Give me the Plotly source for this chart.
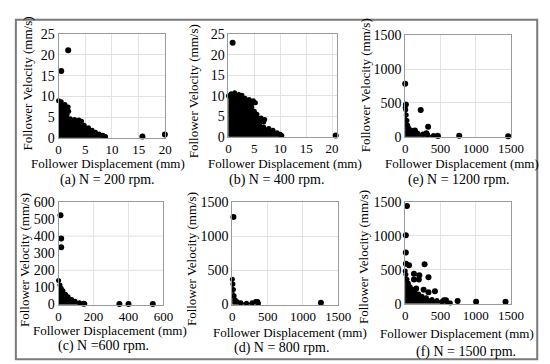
import plotly.graph_objects as go

W, H = 550, 364
FONT = "Liberation Serif, Times New Roman, serif"

# ---------------- data ----------------
# (a) N = 200 rpm
a_blob_x = [0, 0.5, 1.2, 1.8, 1.9, 1.6, 2.2, 3.0, 3.8, 4.3, 4.8, 5.6, 6.3, 6.9, 7.6, 8.3, 8.8]
a_blob_y = [8.9, 8.7, 8.0, 7.4, 6.4, 5.6, 4.6, 4.4, 4.3, 4.0, 3.0, 2.4, 1.8, 1.3, 0.9, 0.6, 0.3]
a_pts_x = [1.8, 0.5, 15.7, 19.9]
a_pts_y = [21.1, 16.1, 0.3, 0.8]

# (b) N = 400 rpm
b_blob_x = [0, 0.5, 1.2, 2.0, 2.6, 3.2, 4.0, 4.8, 5.2, 4.5, 5.0, 5.5, 6.3, 7.0, 6.8, 6.0, 6.8, 7.8, 8.6, 9.4, 10.0, 10.3]
b_blob_y = [10.0, 10.5, 10.7, 10.3, 10.1, 9.4, 9.1, 8.8, 8.3, 7.2, 6.2, 5.5, 4.6, 4.2, 3.6, 3.1, 2.4, 2.0, 1.6, 1.0, 0.6, 0.3]
b_pts_x = [0.8, 20.7]
b_pts_y = [22.9, 0.3]

# (e) N = 1200 rpm
e_blob_x = [0, 8, 15, 25, 35, 50, 80, 120, 180, 250, 320, 400, 470]
e_blob_y = [430, 400, 320, 240, 170, 130, 100, 70, 50, 40, 30, 18, 8]
e_pts_x = [0, 10, 220, 325, 138, 300, 460, 766, 1460]
e_pts_y = [782, 477, 396, 146, 92, 52, 14, 14, 6]

# (c) N = 600 rpm
c_blob_x = [0, 8, 15, 25, 40, 55, 75, 95, 120, 150]
c_blob_y = [140, 115, 95, 80, 60, 45, 30, 20, 10, 4]
c_pts_x = [11, 15, 15, 144, 348, 400, 539]
c_pts_y = [522, 387, 335, 5, 3, 3, 3]

# (d) N = 800 rpm
d_blob_x = [0, 8, 15, 25, 40, 70, 120, 200, 280, 330, 360, 370]
d_blob_y = [370, 300, 220, 130, 70, 40, 25, 20, 25, 45, 45, 15]
d_pts_x = [15, 1255]
d_pts_y = [1280, 25]

# (f) N = 1500 rpm
f_blob_x = [0, 10, 25, 45, 70, 100, 140, 190, 240, 300, 380, 450, 520, 600, 640]
f_blob_y = [480, 430, 360, 300, 250, 210, 170, 140, 110, 85, 60, 45, 30, 20, 10]
f_pts_x = [25, 9, 9, 10, 55, 275, 124, 200, 330, 124, 193, 156, 261, 330, 422, 550, 578, 743, 1005, 1422]
f_pts_y = [1440, 1009, 753, 588, 565, 579, 439, 420, 388, 355, 355, 224, 206, 168, 182, 51, 51, 37, 28, 28]

x_titles = ["Follower Displacement (mm)"] * 6
y_titles = ["Follower Velocity (mm/s)"] * 6
captions = ["(a) N = 200 rpm.", "(b) N = 400 rpm.", "(e) N = 1200 rpm.",
            "(c) N =600 rpm.", "(d) N = 800 rpm.", "(f) N = 1500 rpm."]

a_xticks = [0, 5, 10, 15, 20]
a_yticks = [0, 5, 10, 15, 20, 25]
b_xticks = [0, 5, 10, 15, 20]
b_yticks = [0, 5, 10, 15, 20, 25]
big_ticks = [0, 500, 1000, 1500]
c_xticks = [0, 200, 400, 600]
c_yticks = [0, 100, 200, 300, 400, 500, 600]
c_ygrid = [200, 400]

panels = [
    dict(bx=a_blob_x, by=a_blob_y, px=a_pts_x, py=a_pts_y, xr=[0, 20], yr=[0, 25],
         xt=a_xticks, yt=a_yticks, box=(49, 159, 20, 128)),
    dict(bx=b_blob_x, by=b_blob_y, px=b_pts_x, py=b_pts_y, xr=[0, 21], yr=[0, 25],
         xt=b_xticks, yt=b_yticks, box=(224, 336, 20, 127)),
    dict(bx=e_blob_x, by=e_blob_y, px=e_pts_x, py=e_pts_y, xr=[0, 1500], yr=[0, 1500],
         xt=big_ticks, yt=big_ticks, box=(406, 515, 21, 127)),
    dict(bx=c_blob_x, by=c_blob_y, px=c_pts_x, py=c_pts_y, xr=[0, 600], yr=[0, 600],
         xt=c_xticks, yt=c_yticks, box=(49, 157, 195, 302), ygrid=c_ygrid),
    dict(bx=d_blob_x, by=d_blob_y, px=d_pts_x, py=d_pts_y, xr=[0, 1500], yr=[0, 1500],
         xt=big_ticks, yt=big_ticks, box=(228, 337, 195, 302)),
    dict(bx=f_blob_x, by=f_blob_y, px=f_pts_x, py=f_pts_y, xr=[0, 1500], yr=[0, 1500],
         xt=big_ticks, yt=big_ticks, box=(406, 515, 195, 301)),
]

# label positions (pixels)
xtitle_pos = [(100, 155), (282, 155), (465, 155), (102, 329), (287, 331), (459, 332)]
ytitle_pos = [(16, 72), (188, 80), (366, 73), (14, 256), (186, 255), (363, 252)]
caption_pos = [(99, 172), (273, 172), (461, 172), (95, 345), (279, 347), (469, 352)]

fig = go.Figure()
layout = dict(
    width=W, height=H, autosize=False,
    margin=dict(l=0, r=0, t=0, b=0),
    paper_bgcolor="white", plot_bgcolor="white",
    showlegend=False,
    font=dict(family=FONT, color="black", size=14),
)
shapes = []
annotations = []

for i, p in enumerate(panels, start=1):
    sx = "" if i == 1 else str(i)
    xa, ya = "x" + sx, "y" + sx
    # dense cluster of points near the origin (envelope polygon)
    polx = [0] + p["bx"] + [p["bx"][-1], 0]
    poly = [0] + p["by"] + [0, 0]
    fig.add_trace(go.Scatter(x=polx, y=poly, xaxis=xa, yaxis=ya, mode="lines",
                             fill="toself", fillcolor="black",
                             line=dict(color="black", width=1), hoverinfo="skip"))
    fig.add_trace(go.Scatter(x=p["bx"], y=p["by"], xaxis=xa, yaxis=ya, mode="markers",
                             marker=dict(color="black", size=5), cliponaxis=False))
    fig.add_trace(go.Scatter(x=p["px"], y=p["py"], xaxis=xa, yaxis=ya, mode="markers",
                             marker=dict(color="black", size=6), cliponaxis=False))
    x0, x1, y0, y1 = p["box"]
    common = dict(showline=True, linecolor="#9a9a9a", linewidth=1, mirror=True,
                  zeroline=False, ticks="", gridcolor="#e2e2e2", gridwidth=1,
                  fixedrange=True)
    layout["xaxis" + sx] = dict(common, domain=[x0 / W, x1 / W], anchor=ya,
                               range=p["xr"], tickvals=p["xt"],
                               tickfont=dict(family=FONT, size=13, color="black"))
    yax = dict(common, domain=[1 - y1 / H, 1 - y0 / H], anchor=xa,
               range=p["yr"], tickvals=p["yt"],
               tickfont=dict(family=FONT, size=14, color="black"))
    if "ygrid" in p:
        yax["showgrid"] = False
        for g in p["ygrid"]:
            shapes.append(dict(type="line", xref=xa + " domain", yref=ya, x0=0, x1=1,
                               y0=g, y1=g, line=dict(color="#e2e2e2", width=1),
                               layer="below"))
    layout["yaxis" + sx] = yax

    tx, ty = xtitle_pos[i - 1]
    annotations.append(dict(text=x_titles[i - 1], x=tx / W, y=1 - ty / H, xref="paper",
                            yref="paper", showarrow=False, xanchor="center",
                            yanchor="middle", font=dict(family=FONT, size=13)))
    tx, ty = ytitle_pos[i - 1]
    annotations.append(dict(text=y_titles[i - 1], x=tx / W, y=1 - ty / H, xref="paper",
                            yref="paper", showarrow=False, xanchor="center",
                            yanchor="middle", textangle=-90,
                            font=dict(family=FONT, size=13)))
    tx, ty = caption_pos[i - 1]
    annotations.append(dict(text=captions[i - 1], x=tx / W, y=1 - ty / H, xref="paper",
                            yref="paper", showarrow=False, xanchor="center",
                            yanchor="middle", font=dict(family=FONT, size=14)))

# outer frame of the figure
shapes.append(dict(type="rect", xref="paper", yref="paper",
                   x0=5 / W, x1=542 / W, y0=1 - 359 / H, y1=1 - 5 / H,
                   line=dict(color="#7a7a7a", width=2), layer="above"))

layout["shapes"] = shapes
layout["annotations"] = annotations
fig.update_layout(**layout)
fig.write_html("out.html", config={"displayModeBar": False})
